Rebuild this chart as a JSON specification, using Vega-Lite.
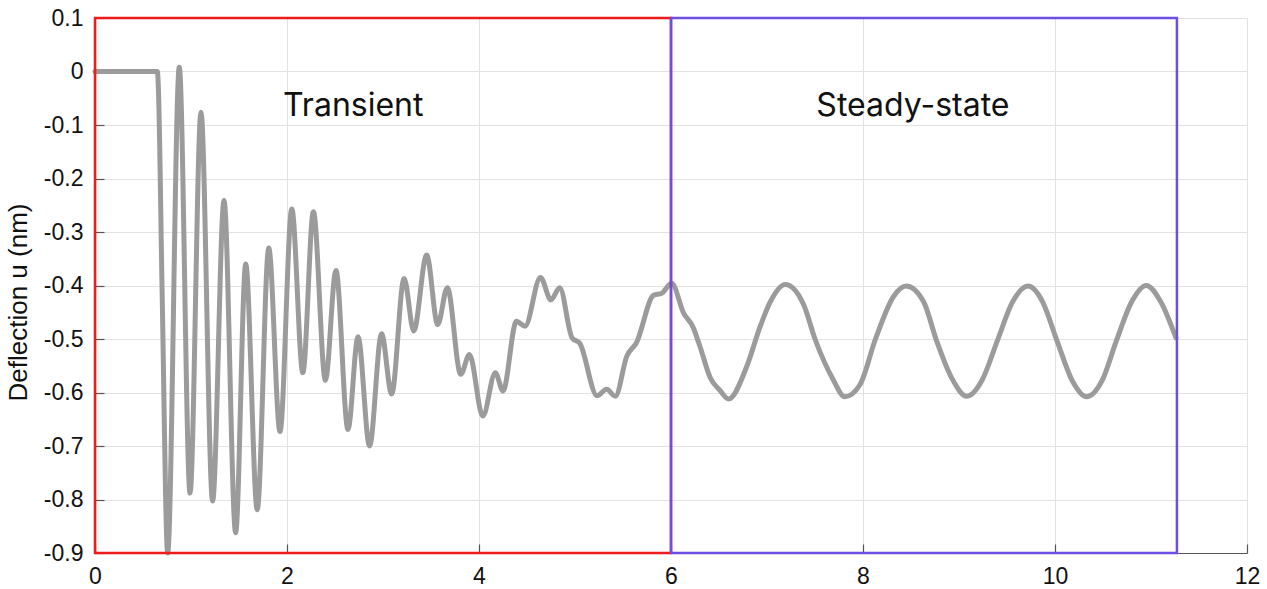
{
  "$schema": "https://vega.github.io/schema/vega-lite/v6.json",
  "width": 1152,
  "height": 535,
  "autosize": {"type": "none"},
  "padding": {"left": 95, "top": 18, "right": 20, "bottom": 36},
  "background": "white",
  "config": {
    "view": {"stroke": null},
    "axis": {
      "grid": true,
      "gridColor": "#e2e2e2",
      "gridWidth": 1,
      "tickColor": "#555555",
      "tickSize": -9,
      "tickWidth": 1.2,
      "domainColor": "#555555",
      "domainWidth": 1.2,
      "labelFont": "Liberation Sans",
      "labelFontSize": 23,
      "labelColor": "#111111",
      "labelFlush": false,
      "labelPadding": 21,
      "titleFont": "Liberation Sans",
      "titleFontSize": 26,
      "titleFontWeight": "normal",
      "titleColor": "#111111",
      "titlePadding": 12
    }
  },
  "datasets": {
    "curve": [
      {"t": 0, "u": 0},
      {"t": 0.65, "u": 0},
      {"t": 0.66, "u": -0.03},
      {"t": 0.7, "u": -0.42},
      {"t": 0.757, "u": -0.9},
      {"t": 0.878, "u": 0.008},
      {"t": 0.99, "u": -0.788},
      {"t": 1.104, "u": -0.076},
      {"t": 1.225, "u": -0.803},
      {"t": 1.344, "u": -0.241},
      {"t": 1.465, "u": -0.862},
      {"t": 1.57, "u": -0.36},
      {"t": 1.69, "u": -0.819},
      {"t": 1.81, "u": -0.33},
      {"t": 1.927, "u": -0.673},
      {"t": 2.05, "u": -0.257},
      {"t": 2.165, "u": -0.563},
      {"t": 2.275, "u": -0.262},
      {"t": 2.4, "u": -0.577},
      {"t": 2.51, "u": -0.372},
      {"t": 2.635, "u": -0.669},
      {"t": 2.74, "u": -0.496},
      {"t": 2.86, "u": -0.7},
      {"t": 2.985, "u": -0.49},
      {"t": 3.09, "u": -0.603},
      {"t": 3.22, "u": -0.387},
      {"t": 3.32, "u": -0.485},
      {"t": 3.455, "u": -0.343},
      {"t": 3.57, "u": -0.473},
      {"t": 3.67, "u": -0.404},
      {"t": 3.81, "u": -0.566},
      {"t": 3.9, "u": -0.529},
      {"t": 4.04, "u": -0.644},
      {"t": 4.17, "u": -0.563},
      {"t": 4.25, "u": -0.597},
      {"t": 4.39, "u": -0.467},
      {"t": 4.48, "u": -0.476},
      {"t": 4.64, "u": -0.385},
      {"t": 4.75, "u": -0.427},
      {"t": 4.84, "u": -0.404},
      {"t": 4.97, "u": -0.498},
      {"t": 5.05, "u": -0.508},
      {"t": 5.23, "u": -0.606},
      {"t": 5.33, "u": -0.594},
      {"t": 5.42, "u": -0.607},
      {"t": 5.54, "u": -0.532},
      {"t": 5.64, "u": -0.507},
      {"t": 5.82, "u": -0.418},
      {"t": 5.9, "u": -0.415},
      {"t": 6.007, "u": -0.396},
      {"t": 6.13, "u": -0.451},
      {"t": 6.23, "u": -0.478},
      {"t": 6.3, "u": -0.513},
      {"t": 6.41, "u": -0.573},
      {"t": 6.51, "u": -0.596},
      {"t": 6.6, "u": -0.612},
      {"t": 6.79, "u": -0.551},
      {"t": 6.93, "u": -0.476},
      {"t": 7.03, "u": -0.432},
      {"t": 7.19, "u": -0.398},
      {"t": 7.38, "u": -0.435},
      {"t": 7.5, "u": -0.5},
      {"t": 7.69, "u": -0.576},
      {"t": 7.81, "u": -0.608},
      {"t": 7.97, "u": -0.585},
      {"t": 8.13, "u": -0.5},
      {"t": 8.32, "u": -0.42},
      {"t": 8.45, "u": -0.401},
      {"t": 8.63, "u": -0.43},
      {"t": 8.77, "u": -0.505},
      {"t": 8.93, "u": -0.575},
      {"t": 9.08, "u": -0.607},
      {"t": 9.24, "u": -0.577},
      {"t": 9.4, "u": -0.503},
      {"t": 9.56, "u": -0.43},
      {"t": 9.72, "u": -0.401},
      {"t": 9.87, "u": -0.43},
      {"t": 10.02, "u": -0.503},
      {"t": 10.18, "u": -0.578},
      {"t": 10.33, "u": -0.608},
      {"t": 10.49, "u": -0.578},
      {"t": 10.64, "u": -0.503},
      {"t": 10.8, "u": -0.43},
      {"t": 10.95, "u": -0.4},
      {"t": 11.1, "u": -0.43},
      {"t": 11.26, "u": -0.498}
    ],
    "boxes": [
      {"region": "Transient", "x0": 0, "x1": 6, "y0": -0.9, "y1": 0.1},
      {"region": "Steady-state", "x0": 6, "x1": 11.27, "y0": -0.9, "y1": 0.1}
    ],
    "labels": [
      {"region": "Transient", "t": 2.69, "u": -0.065},
      {"region": "Steady-state", "t": 8.52, "u": -0.065}
    ]
  },
  "encoding": {
    "x": {
      "type": "quantitative",
      "scale": {"domain": [0, 12], "nice": false, "zero": false},
      "axis": {"values": [0, 2, 4, 6, 8, 10, 12], "title": null}
    },
    "y": {
      "type": "quantitative",
      "scale": {"domain": [-0.9, 0.1], "nice": false, "zero": false},
      "axis": {
        "values": [-0.9, -0.8, -0.7, -0.6, -0.5, -0.4, -0.3, -0.2, -0.1, 0, 0.1],
        "title": "Deflection u (nm)",
        "titleY": 284,
        "labelExpr": "replace(format(datum.value, '~g'), '\u2212', '-')"
      }
    }
  },
  "layer": [
    {
      "data": {"name": "curve"},
      "mark": {"type": "line", "interpolate": "monotone", "color": "#9b9b9b", "strokeWidth": 5, "strokeCap": "round", "strokeJoin": "round"},
      "encoding": {
        "x": {"field": "t"},
        "y": {"field": "u"}
      }
    },
    {
      "data": {"name": "boxes"},
      "mark": {"type": "rect", "fill": null, "fillOpacity": 0, "strokeWidth": 2.5},
      "encoding": {
        "x": {"field": "x0"},
        "x2": {"field": "x1"},
        "y": {"field": "y0"},
        "y2": {"field": "y1"},
        "stroke": {
          "field": "region", "type": "nominal",
          "scale": {"domain": ["Transient", "Steady-state"], "range": ["#ee1b1b", "#6d4ee2"]},
          "legend": null
        }
      }
    },
    {
      "data": {"name": "labels"},
      "mark": {"type": "text", "font": "Inter", "fontSize": 32, "color": "#111111", "align": "center", "baseline": "middle"},
      "encoding": {
        "x": {"field": "t"},
        "y": {"field": "u"},
        "text": {"field": "region"}
      }
    }
  ]
}
